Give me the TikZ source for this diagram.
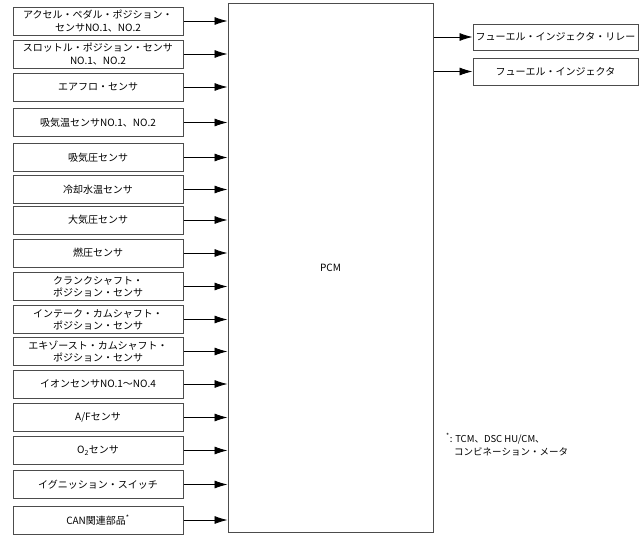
\documentclass[tikz,border=0pt]{standalone}
\usepackage{fontspec}
\setmainfont{Noto Sans CJK JP}
\usetikzlibrary{arrows.meta}

\begin{document}
\begin{tikzpicture}[x=1pt,y=-1pt,
  box/.style={draw=black!70,line width=1pt,minimum width=170pt,minimum height=28pt,inner sep=1pt,align=center,font=\fontsize{10}{12.5}\selectfont},
  sig/.style={draw=black,line width=0.8pt,-{Latex[length=13pt,width=8pt]}}]
\useasboundingbox (0,0) rectangle (640,538);
% PCM
\node[box,minimum width=205pt,minimum height=529pt] (pcm) at (330.5,267.5) {PCM};
% Sensors into the PCM
\foreach \i/\yc/\txt in {
  1/21/{アクセル・ペダル・ポジション・\\センサNO.1、NO.2},
  2/54/{スロットル・ポジション・センサ\\NO.1、NO.2},
  3/87/{エアフロ・センサ},
  4/122.5/{吸気温センサNO.1、NO.2},
  5/157.5/{吸気圧センサ},
  6/189.5/{冷却水温センサ},
  7/220/{大気圧センサ},
  8/253/{燃圧センサ},
  9/286.5/{クランクシャフト・\\ポジション・センサ},
  10/319.5/{インテーク・カムシャフト・\\ポジション・センサ},
  11/351.5/{エキゾースト・カムシャフト・\\ポジション・センサ},
  12/384/{イオンセンサNO.1～NO.4},
  13/417.5/{A/Fセンサ},
  14/450.5/{O\textsubscript{2}センサ},
  15/484.5/{イグニッション・スイッチ},
  16/520/{CAN関連部品\textsuperscript{*}}}
{
  \node[box] (in\i) at (98,\yc) {\txt};
  \draw[sig] (in\i.east) -- (in\i.east -| pcm.west);
}
% Outputs
\node[box,minimum width=165pt,minimum height=26pt] (relay) at (555.5,37) {フューエル・インジェクタ・リレー};
\node[box,minimum width=165pt,minimum height=27pt] (inj) at (555.5,71.5) {フューエル・インジェクタ};
\draw[sig] (pcm.east |- relay) -- (relay.west);
\draw[sig] (pcm.east |- inj) -- (inj.west);
% Footnote
\node[anchor=north west,align=left,inner sep=0pt,font=\fontsize{9.5}{13}\selectfont] (note) at (446,433) {\textsuperscript{*}: TCM、DSC HU/CM、\\\hspace{8pt}コンビネーション・メータ};
\end{tikzpicture}
\end{document}
